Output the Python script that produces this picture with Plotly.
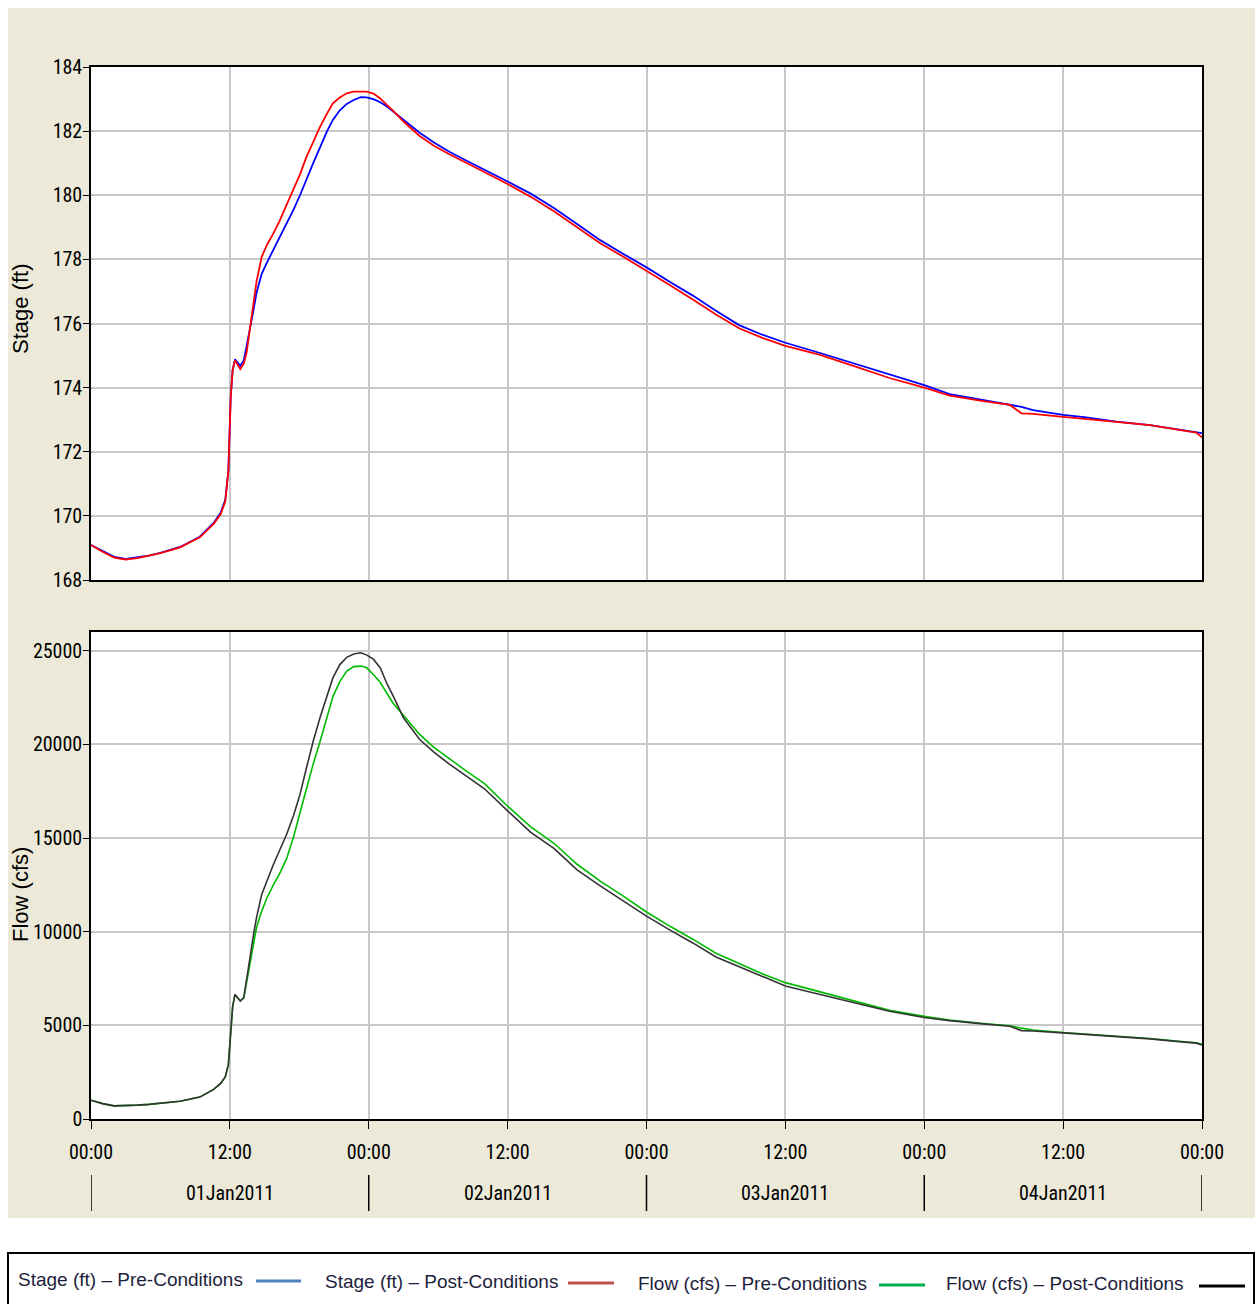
import pandas as pd
import plotly.graph_objects as go

# Hours after 01Jan2011 00:00 at which the hydrographs are sampled
hours = [0, 1, 2, 3, 4, 5, 6, 7.7, 9.4, 10.6, 11.2, 11.6, 11.87, 11.96, 12.07,
         12.24, 12.44, 12.9, 13.2, 13.45, 13.74, 14.03, 14.3, 14.75, 15.2, 15.76,
         16.3, 16.9, 17.5, 18.06, 18.6, 19.2, 19.8, 20.4, 20.9, 21.5, 22.1, 22.7,
         23.3, 23.8, 24.4, 25.0, 25.6, 26.1, 27.0, 28.4, 29.6, 31, 32.5, 34, 36,
         38, 40, 42, 44, 46, 48, 50, 52, 54, 56, 58, 60, 63, 66, 69, 72, 74.2,
         77.1, 79.4, 80.4, 81.4, 84, 86, 88.6, 91.5, 94, 95.5, 96]

# Stage (ft)
stage_pre = [169.09, 168.9, 168.72, 168.66, 168.7, 168.76, 168.85, 169.03, 169.35,
             169.78, 170.1, 170.5, 171.4, 172.4, 173.7, 174.55, 174.88, 174.68,
             174.85, 175.3, 175.8, 176.4, 176.95, 177.55, 177.9, 178.3, 178.7,
             179.13, 179.55, 180.0, 180.5, 181.0, 181.5, 182.0, 182.35, 182.65,
             182.85, 182.97, 183.06, 183.05, 183.0, 182.9, 182.76, 182.62, 182.35,
             181.95, 181.65, 181.35, 181.07, 180.8, 180.43, 180.05, 179.6, 179.1,
             178.6, 178.17, 177.75, 177.3, 176.87, 176.4, 175.95, 175.65, 175.4,
             175.08, 174.74, 174.4, 174.08, 173.8, 173.61, 173.46, 173.4, 173.3,
             173.15, 173.07, 172.94, 172.83, 172.7, 172.62, 172.58]
stage_post = [169.09, 168.88, 168.7, 168.64, 168.68, 168.75, 168.84, 169.02, 169.33,
              169.75, 170.05, 170.45, 171.4, 172.4, 173.7, 174.55, 174.85, 174.58,
              174.75, 175.1, 175.8, 176.55, 177.3, 178.08, 178.45, 178.81, 179.2,
              179.7, 180.2, 180.65, 181.18, 181.65, 182.14, 182.55, 182.87, 183.05,
              183.18, 183.23, 183.24, 183.23, 183.17, 183.02, 182.8, 182.64, 182.3,
              181.85, 181.55, 181.27, 181.0, 180.72, 180.35, 179.95, 179.5, 179.0,
              178.5, 178.08, 177.65, 177.2, 176.75, 176.28, 175.85, 175.55, 175.3,
              175.02, 174.66, 174.3, 174.0, 173.75, 173.58, 173.46, 173.2, 173.18,
              173.09, 173.03, 172.93, 172.83, 172.7, 172.6, 172.45]

# Flow (cfs)
flow_pre = [1000, 820, 700, 700, 740, 780, 830, 950, 1170, 1580, 1900, 2250, 2900,
            3700, 4800, 6000, 6650, 6300, 6450, 7300, 8300, 9300, 10210, 11100,
            11800, 12500, 13100, 13900, 15050, 16350, 17600, 18950, 20170, 21450,
            22550, 23350, 23910, 24150, 24180, 24100, 23730, 23300, 22700, 22200,
            21550, 20530, 19850, 19200, 18550, 17900, 16700, 15600, 14720, 13600,
            12700, 11900, 11050, 10300, 9600, 8850, 8300, 7760, 7280, 6780, 6280,
            5800, 5480, 5280, 5100, 4980, 4850, 4750, 4620, 4540, 4420, 4300, 4150,
            4070, 4000]
flow_post = [1000, 820, 700, 700, 740, 780, 830, 950, 1170, 1580, 1900, 2250, 2900,
             3700, 4800, 6000, 6650, 6300, 6480, 7400, 8610, 9800, 10740, 11990,
             12750, 13590, 14350, 15190, 16200, 17330, 18700, 20170, 21450, 22660,
             23550, 24260, 24650, 24830, 24890, 24780, 24550, 24080, 23200, 22600,
             21420, 20260, 19600, 18930, 18300, 17630, 16450, 15300, 14450, 13300,
             12450, 11650, 10830, 10100, 9400, 8650, 8130, 7580, 7100, 6650, 6200,
             5750, 5420, 5250, 5080, 4950, 4720, 4700, 4600, 4520, 4400, 4280, 4130,
             4050, 3950]

stage_ticks = [168, 170, 172, 174, 176, 178, 180, 182, 184]
flow_ticks = [0, 5000, 10000, 15000, 20000, 25000]
time_labels = ["00:00", "12:00", "00:00", "12:00", "00:00", "12:00", "00:00", "12:00", "00:00"]
day_labels = ["01Jan2011", "02Jan2011", "03Jan2011", "04Jan2011"]
legend_labels = ["Stage (ft) \u2013 Pre-Conditions", "Stage (ft) \u2013 Post-Conditions",
                 "Flow (cfs) \u2013 Pre-Conditions", "Flow (cfs) \u2013 Post-Conditions"]

W, H = 1255, 1304
start = pd.Timestamp("2011-01-01 00:00")
times = [start + pd.Timedelta(hours=h) for h in hours]
tick_times = [start + pd.Timedelta(hours=12 * i) for i in range(len(time_labels))]
day_mid = [start + pd.Timedelta(hours=12 + 24 * i) for i in range(len(day_labels))]
day_edges = [start + pd.Timedelta(hours=24 * i) for i in range(len(day_labels) + 1)]


def px(x):
    return x / W


def py(y):
    return 1 - y / H


NARROW = "Liberation Sans Narrow, Roboto Condensed, DejaVu Sans Condensed, Liberation Sans, Arial"
SANS = "Liberation Sans, Arial, sans-serif"
GRID = "#C8C8C8"
PANEL = "#ECE9D8"

fig = go.Figure()
fig.add_trace(go.Scatter(x=times, y=stage_pre, mode="lines", xaxis="x", yaxis="y",
                         line=dict(color="#0000FF", width=1.8), showlegend=False))
fig.add_trace(go.Scatter(x=times, y=stage_post, mode="lines", xaxis="x", yaxis="y",
                         line=dict(color="#FF0000", width=1.8), showlegend=False))
fig.add_trace(go.Scatter(x=times, y=flow_pre, mode="lines", xaxis="x2", yaxis="y2",
                         line=dict(color="#00BB00", width=1.6), showlegend=False))
fig.add_trace(go.Scatter(x=times, y=flow_post, mode="lines", xaxis="x2", yaxis="y2",
                         line=dict(color="#333333", width=1.6), showlegend=False))

xdom = [px(91), px(1202)]
xrange_ = [start, start + pd.Timedelta(hours=96)]
axis_common = dict(showline=True, linecolor="black", linewidth=1.5, mirror=True,
                   showgrid=True, gridcolor=GRID, gridwidth=1.5, zeroline=False,
                   automargin=False)
tickfont = dict(family=NARROW, size=20, color="black")

fig.update_layout(
    width=W, height=H, autosize=False,
    margin=dict(l=0, r=0, t=0, b=0),
    paper_bgcolor=PANEL, plot_bgcolor="white",
    xaxis=dict(domain=xdom, anchor="y", range=xrange_, type="date",
               tickvals=tick_times, ticktext=[""] * len(tick_times), ticks="",
               **axis_common),
    yaxis=dict(domain=[py(580), py(67)], anchor="x", range=[168, 184],
               tickvals=stage_ticks, ticktext=[str(v) for v in stage_ticks],
               ticks="outside", ticklen=6, tickcolor="black", tickfont=tickfont,
               ticklabelstandoff=-3, **axis_common),
    xaxis2=dict(domain=xdom, anchor="y2", range=xrange_, type="date",
                tickvals=tick_times, ticktext=time_labels, ticks="outside",
                ticklen=8, tickcolor="black", tickfont=tickfont,
                ticklabelstandoff=6, **axis_common),
    yaxis2=dict(domain=[py(1119), py(632)], anchor="x2", range=[0, 26000],
                tickvals=flow_ticks, ticktext=[str(v) for v in flow_ticks],
                ticks="outside", ticklen=6, tickcolor="black", tickfont=tickfont,
                ticklabelstandoff=-3, **axis_common),
)

white = dict(fillcolor="white", line=dict(width=0), layer="below",
             type="rect", xref="paper", yref="paper")
shapes = [
    # white page outside the chart panel
    dict(x0=0, x1=1, y0=py(8), y1=1, **white),
    dict(x0=0, x1=px(8), y0=0, y1=1, **white),
    dict(x0=0, x1=1, y0=0, y1=py(1218), **white),
    # legend frame
    dict(type="rect", xref="paper", yref="paper", x0=px(8), x1=px(1254), y0=-0.02,
         y1=py(1253), fillcolor="white", line=dict(color="black", width=2), layer="below"),
]
for d in day_edges:
    shapes.append(dict(type="line", xref="x2", yref="paper", x0=d, x1=d,
                       y0=py(1211), y1=py(1175), line=dict(color="black", width=1.5)))

annotations = []
for m, lab in zip(day_mid, day_labels):
    annotations.append(dict(x=m, xref="x2", y=py(1193), yref="paper", text=lab,
                            showarrow=False, xanchor="center", yanchor="middle",
                            font=dict(family=NARROW, size=20, color="black")))

annotations.append(dict(x=px(20), y=py(309), xref="paper", yref="paper", text="Stage (ft)",
                        textangle=-90, showarrow=False, xanchor="center", yanchor="middle",
                        font=dict(family=SANS, size=22, color="black")))
annotations.append(dict(x=px(20), y=py(895), xref="paper", yref="paper", text="Flow (cfs)",
                        textangle=-90, showarrow=False, xanchor="center", yanchor="middle",
                        font=dict(family=SANS, size=22, color="black")))

# legend entries: label followed by a line sample
legend_text_x = [16, 323, 636, 944]
legend_text_y = [1279, 1281, 1283, 1283]
legend_line_x = [(256, 301), (568, 614), (879, 925), (1199, 1245)]
legend_line_y = [1281, 1283, 1285, 1286]
legend_colors = ["#4F81BD", "#C0504D", "#00B050", "#000000"]
for lab, tx, ty, (lx0, lx1), ly, c in zip(legend_labels, legend_text_x, legend_text_y,
                                          legend_line_x, legend_line_y, legend_colors):
    annotations.append(dict(x=px(tx), y=py(ty), xref="paper", yref="paper", text=lab,
                            showarrow=False, xanchor="left", yanchor="middle",
                            font=dict(family=SANS, size=19, color="#1E1E3C")))
    shapes.append(dict(type="line", xref="paper", yref="paper", x0=px(lx0), x1=px(lx1),
                       y0=py(ly), y1=py(ly), line=dict(color=c, width=3)))

fig.update_layout(shapes=shapes, annotations=annotations)
fig.write_html("out.html")
